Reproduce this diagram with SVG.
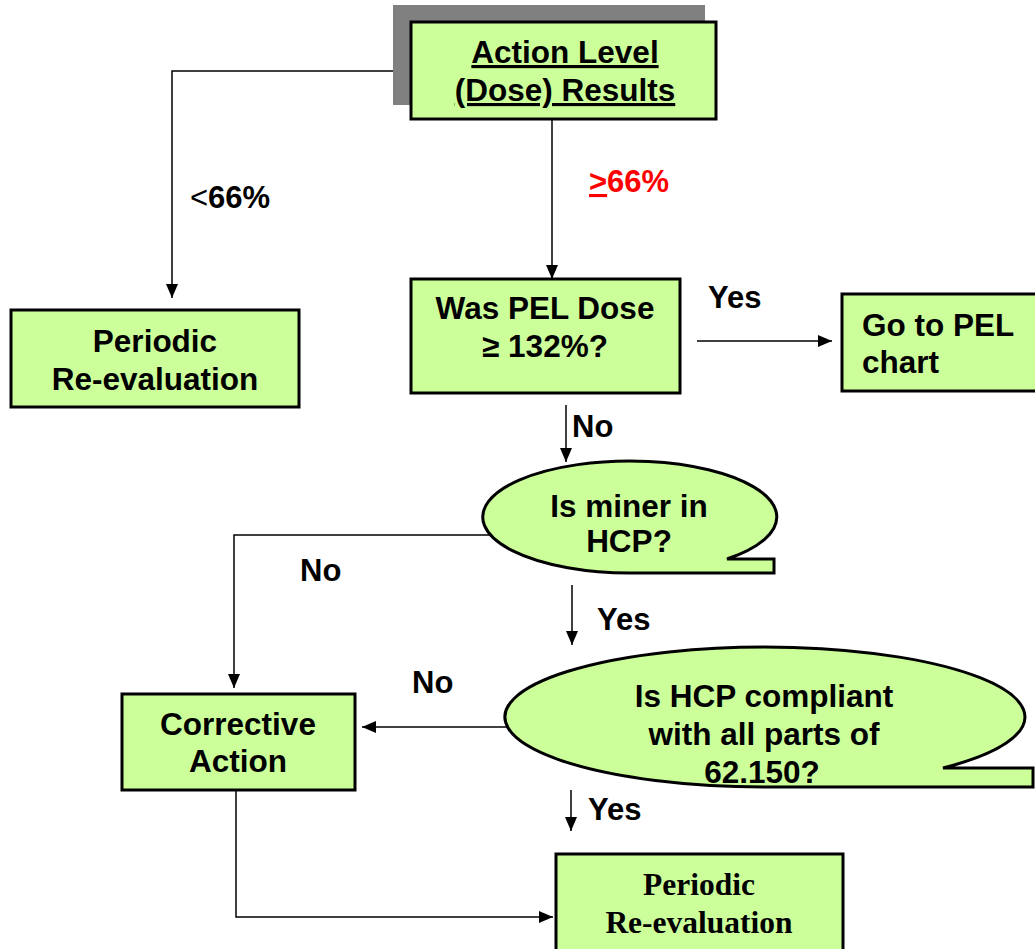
<svg xmlns="http://www.w3.org/2000/svg" width="1035" height="949" viewBox="0 0 1035 949">
<style>
.box{fill:#ccff99;stroke:#000;stroke-width:3}
.t{font-family:"Liberation Sans",Arial,sans-serif;font-weight:bold;font-size:31.5px;fill:#000}
.ts{font-family:"Liberation Serif","Times New Roman",serif;font-weight:bold;font-size:31.5px;fill:#000}
.c{text-anchor:middle}
.ln{fill:none;stroke:#000;stroke-width:1.5}
</style>
<defs>
<marker id="ahl" viewBox="0 0 14 12" refX="14" refY="6" markerWidth="14" markerHeight="12" markerUnits="userSpaceOnUse" orient="auto">
<path d="M0,0 L14,6 L0,12 Z" fill="#000"/>
</marker>
</defs>
<rect width="1035" height="949" fill="#fff"/>
<g id="connectors">
<path class="ln" d="M393,71 H172 V298" marker-end="url(#ahl)"/>
<path class="ln" d="M552,119 V279" marker-end="url(#ahl)"/>
<path class="ln" d="M697,341 H832" marker-end="url(#ahl)"/>
<path class="ln" d="M566,405 V462" marker-end="url(#ahl)"/>
<path class="ln" d="M489,535 H234 V688" marker-end="url(#ahl)"/>
<path class="ln" d="M572,585 V645" marker-end="url(#ahl)"/>
<path class="ln" d="M507,727 H362" marker-end="url(#ahl)"/>
<path class="ln" d="M571,790 V831" marker-end="url(#ahl)"/>
<path class="ln" d="M236,790 V917 H553" marker-end="url(#ahl)"/>
</g>
<g id="labels">
<text x="190" y="208" style="font-family:'Liberation Sans',Arial,sans-serif;font-size:31px"><tspan>&lt;</tspan><tspan font-weight="bold">66%</tspan></text>
<text x="589" y="192" style="font-family:'Liberation Sans',Arial,sans-serif;font-size:31px;font-weight:bold;fill:#ff0000"><tspan text-decoration="underline">&gt;</tspan>66%</text>
<text class="t" x="708" y="308" style="font-size:31px">Yes</text>
<text class="t" x="572" y="437" style="font-size:31px">No</text>
<text class="t" x="300" y="581" style="font-size:31px">No</text>
<text class="t" x="597" y="630" style="font-size:31px">Yes</text>
<text class="t" x="412" y="693" style="font-size:31px">No</text>
<text class="t" x="588" y="820" style="font-size:31px">Yes</text>
</g>
<g id="action-level">
<rect x="393" y="5" width="312" height="100" fill="#808080"/>
<rect class="box" x="411" y="22" width="305" height="97"/>
<text class="t c" x="565" y="63" text-decoration="underline">Action Level</text>
<text class="t c" x="565" y="101" text-decoration="underline">(Dose) Results</text>
</g>
<g id="periodic-left">
<rect class="box" x="11" y="310" width="288" height="97"/>
<text class="t c" x="155" y="352">Periodic</text>
<text class="t c" x="155" y="390">Re-evaluation</text>
</g>
<g id="pel-dose">
<rect class="box" x="411" y="279" width="269" height="114"/>
<text class="t c" x="545" y="319">Was PEL Dose</text>
<text class="t c" x="545" y="357">≥ 132%?</text>
</g>
<g id="go-pel">
<rect class="box" x="842" y="294" width="200" height="97"/>
<text class="t" x="862" y="336">Go to PEL</text>
<text class="t" x="862" y="373">chart</text>
</g>
<g id="miner-hcp">
<path class="box" d="M727,559 L774,559 L774,573 L630,573 A147,56 0 1 1 727,559 Z"/>
<text class="t c" x="629" y="517">Is miner in</text>
<text class="t c" x="629" y="552">HCP?</text>
</g>
<g id="hcp-compliant">
<path class="box" d="M943,768 L1033,768 L1033,787 L765,787 A260,70 0 1 1 943,768 Z"/>
<text class="t c" x="764" y="707">Is HCP compliant</text>
<text class="t c" x="764" y="745">with all parts of</text>
<text class="t c" x="762" y="783">62.150?</text>
</g>
<g id="corrective">
<rect class="box" x="122" y="694" width="233" height="96"/>
<text class="t c" x="238" y="735">Corrective</text>
<text class="t c" x="238" y="772">Action</text>
</g>
<g id="periodic-bottom">
<rect class="box" x="556" y="854" width="287" height="110"/>
<text class="ts c" x="699" y="895">Periodic</text>
<text class="ts c" x="699" y="933">Re-evaluation</text>
</g>
</svg>
